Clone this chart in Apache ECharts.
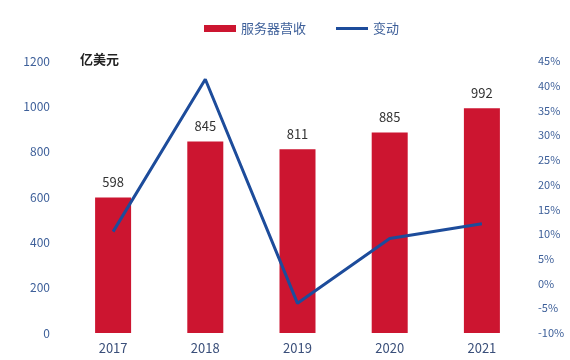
<!DOCTYPE html>
<html>
<head>
<meta charset="utf-8">
<script src="https://cdn.jsdelivr.net/npm/echarts@6/dist/echarts.min.js"></script>
<style>
  html, body { margin: 0; padding: 0; background: #ffffff; }
  #chart { width: 570px; height: 360px; }
</style>
</head>
<body>
<div id="chart"></div>
<script>
// Server revenue (100M USD) and year-over-year change (%)
const years = ['2017', '2018', '2019', '2020', '2021'];
const revenue = [598, 845, 811, 885, 992];
const change = [10.5, 41.3, -4.0, 9.1, 12.1];

const chart = echarts.init(document.getElementById('chart'), null, { renderer: 'canvas' });
const axisBlue = '#3d5f99';
const font = '"Noto Sans CJK SC", "Noto Sans", sans-serif';

chart.setOption({
  animation: false,
  textStyle: { fontFamily: font },
  legend: {
    top: 17,
    left: 199,
    itemWidth: 32,
    itemHeight: 8,
    itemGap: 30,
    symbolKeepAspect: true,
    textStyle: { color: '#3d5f99', fontSize: 13, fontFamily: font },
    data: [
      { name: '服务器营收', icon: 'path://M0,0h32v7h-32z' },
      { name: '变动', icon: 'path://M0,0h32v3h-32z', itemStyle: { color: '#1d4c9b' } }
    ]
  },
  grid: { left: 67, right: 42, top: 61, bottom: 27 },
  xAxis: {
    type: 'category',
    data: years,
    axisLine: { show: false },
    axisTick: { show: false },
    axisLabel: { color: '#3a4f7a', fontSize: 13, margin: 9, fontFamily: font }
  },
  yAxis: [
    {
      type: 'value',
      min: 0, max: 1200, interval: 200,
      splitLine: { show: false },
      axisLine: { show: false },
      axisTick: { show: false },
      axisLabel: {
        color: axisBlue, fontSize: 12, margin: 17, fontFamily: font,
        formatter: (v) => String(v)
      }
    },
    {
      type: 'value',
      min: -10, max: 45, interval: 5,
      splitLine: { show: false },
      axisLine: { show: false },
      axisTick: { show: false },
      axisLabel: { color: axisBlue, fontSize: 11, margin: 10, formatter: '{value}%', fontFamily: font }
    }
  ],
  graphic: [
    {
      type: 'text',
      left: 80, top: 53,
      style: { text: '亿美元', fill: '#222222', font: 'bold 13px ' + font }
    }
  ],
  series: [
    {
      name: '服务器营收',
      type: 'bar',
      data: revenue,
      barWidth: 36,
      itemStyle: { color: '#cc1530' },
      label: {
        show: true,
        position: 'top',
        distance: 9,
        color: '#333333',
        fontSize: 13,
        fontFamily: font
      }
    },
    {
      name: '变动',
      type: 'line',
      yAxisIndex: 1,
      data: change,
      symbol: 'none',
      lineStyle: { color: '#1d4c9b', width: 3 },
      itemStyle: { color: '#1d4c9b' }
    }
  ]
});
</script>
</body>
</html>
